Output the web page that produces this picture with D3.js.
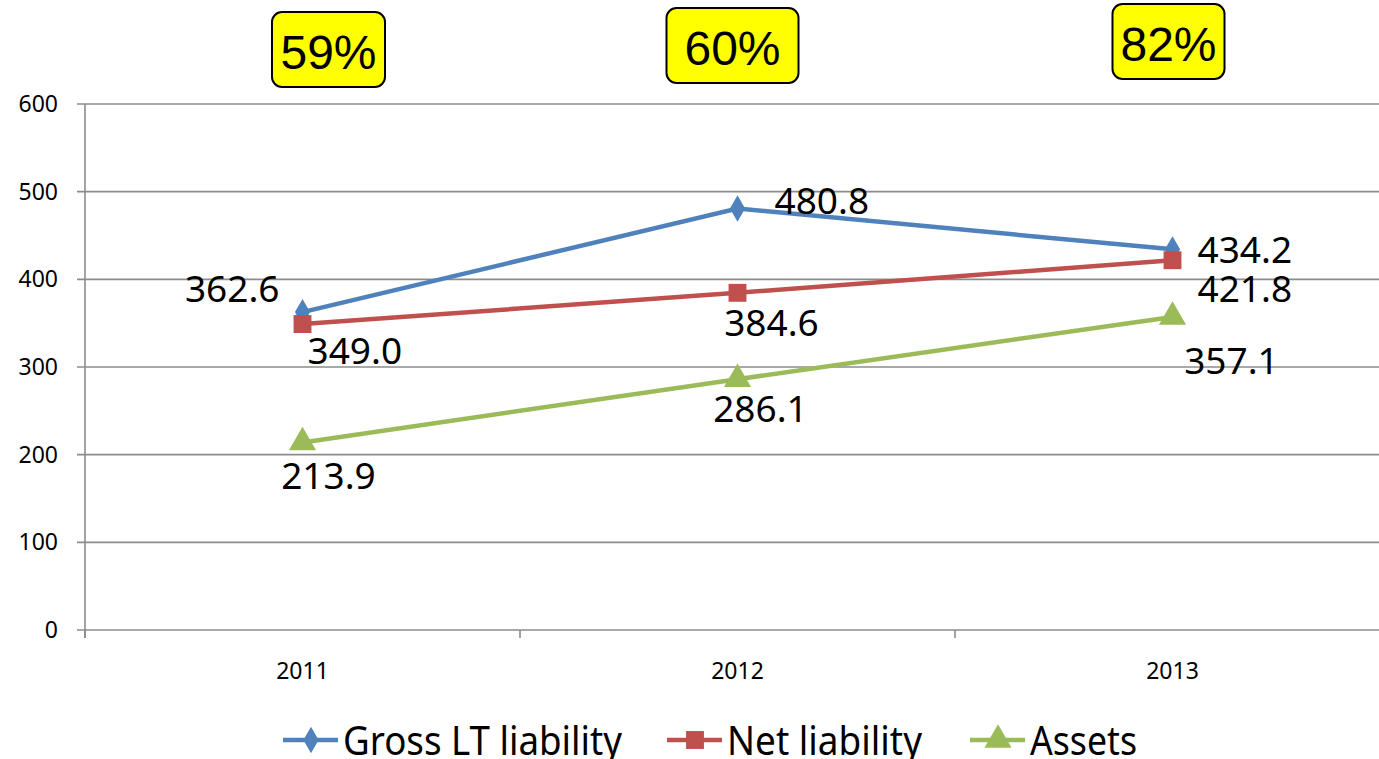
<html>
<head>
	<meta charset="UTF-8">
	<title>Liability vs assets</title>
	<script src="https://cdn.jsdelivr.net/npm/d3@7"></script>
	<style>
		body {
			padding: 0;
			margin: 0;
			background: #fff;
		}
	</style>
</head>
<body>
	<script>
		var years = ["2011", "2012", "2013"];
		var gross = [362.6, 480.8, 434.2];
		var net = [349.0, 384.6, 421.8];
		var assets = [213.9, 286.1, 357.1];
		var ratios = ["59%", "60%", "82%"];
		var yTicks = [0, 100, 200, 300, 400, 500, 600];
		var seriesNames = ["Gross LT liability", "Net liability", "Assets"];

		var w = 1379,
			h = 759;

		var colors = ["#4F81BD", "#C0504D", "#9BBB59"];
		var symbols = [d3.symbolDiamond, d3.symbolSquare, d3.symbolTriangle];
		var symSizes = [200, 320, 320];

		// label offsets from the point [dx, dy, anchor] per series / year
		var labelOffsets = [
			[[-23, -10, "end"], [37, 6, "start"], [25, 14, "start"]],
			[[5, 40, "start"], [34, 43, "middle"], [25, 42, "start"]],
			[[26, 47, "middle"], [23, 43, "middle"], [59, 57, "middle"]]
		];
		// ratio boxes: [dx of centre, top, width]
		var boxes = [[26, 12, 113], [-5, 8, 132], [-4, 4, 112]];

		var svg = d3.select("body").append("svg")
			.attr("width", w)
			.attr("height", h);

		var x = d3.scaleBand().domain(years).range([85, 1390]);
		var y = d3.scaleLinear().domain([0, 600]).range([630, 104]);

		// gridlines + y labels
		svg.selectAll("line.grid").data(yTicks).enter().append("line")
			.attr("x1", 77).attr("x2", 1390)
			.attr("y1", d => y(d)).attr("y2", d => y(d))
			.attr("stroke", "#8c8c8c").attr("stroke-width", 1.6);

		svg.selectAll("text.ylab").data(yTicks).enter().append("text")
			.attr("x", 58).attr("y", d => y(d) + 8)
			.attr("text-anchor", "end")
			.style("font-family", "'Noto Sans', sans-serif")
			.style("font-size", "23px")
			.text(d => d);

		svg.append("line")
			.attr("x1", 85).attr("x2", 85).attr("y1", y(600)).attr("y2", 638)
			.attr("stroke", "#8c8c8c").attr("stroke-width", 1.6);

		var edges = years.map(d => x(d)).concat([x.range()[1]]);
		svg.selectAll("line.xt").data(edges).enter().append("line")
			.attr("x1", d => d).attr("x2", d => d)
			.attr("y1", 630).attr("y2", 638)
			.attr("stroke", "#8c8c8c").attr("stroke-width", 1.6);

		svg.selectAll("text.xlab").data(years).enter().append("text")
			.attr("x", d => x(d) + x.bandwidth() / 2).attr("y", 679)
			.attr("text-anchor", "middle")
			.style("font-family", "'Noto Sans', sans-serif")
			.style("font-size", "23px")
			.text(d => d);

		var allSeries = [gross, net, assets];
		var line = d3.line()
			.x((d, i) => x(years[i]) + x.bandwidth() / 2)
			.y(d => y(d));

		allSeries.forEach(function(vals, s) {
			svg.append("path")
				.attr("d", line(vals))
				.attr("fill", "none")
				.attr("stroke", colors[s])
				.attr("stroke-width", 4.5);

			svg.selectAll(null).data(vals).enter().append("path")
				.attr("d", d3.symbol().type(symbols[s]).size(symSizes[s]))
				.attr("transform", (d, i) => "translate(" + (x(years[i]) + x.bandwidth() / 2) + "," + y(d) + ")")
				.attr("fill", colors[s]);

			svg.selectAll(null).data(vals).enter().append("text")
				.attr("x", (d, i) => x(years[i]) + x.bandwidth() / 2 + labelOffsets[s][i][0])
				.attr("y", (d, i) => y(d) + labelOffsets[s][i][1])
				.attr("text-anchor", (d, i) => labelOffsets[s][i][2])
				.style("font-family", "'Noto Sans', sans-serif")
				.style("font-size", "37px")
				.text(d => d.toFixed(1));
		});

		// ratio boxes
		ratios.forEach(function(r, i) {
			var cx = x(years[i]) + x.bandwidth() / 2 + boxes[i][0];
			var g = svg.append("g");
			g.append("rect")
				.attr("x", cx - boxes[i][2] / 2).attr("y", boxes[i][1])
				.attr("width", boxes[i][2]).attr("height", 75)
				.attr("rx", 10)
				.attr("fill", "#FFFF00")
				.attr("stroke", "#000").attr("stroke-width", 2);
			g.append("text")
				.attr("x", cx).attr("y", boxes[i][1] + 57)
				.attr("text-anchor", "middle")
				.style("font-family", "'Liberation Sans', Arial, sans-serif")
				.style("font-size", "48px")
				.text(r);
		});

		// legend
		var legX = [283, 667, 970];
		var legW = [279, 195, 107];
		seriesNames.forEach(function(n, s) {
			var g = svg.append("g").attr("transform", "translate(" + legX[s] + ",740)");
			g.append("line").attr("x1", 0).attr("x2", 55)
				.attr("stroke", colors[s]).attr("stroke-width", 4.5);
			g.append("path")
				.attr("d", d3.symbol().type(symbols[s]).size(symSizes[s]))
				.attr("transform", "translate(28,0)")
				.attr("fill", colors[s]);
			g.append("text")
				.attr("x", 60).attr("y", 15)
				.attr("textLength", legW[s])
				.attr("lengthAdjust", "spacingAndGlyphs")
				.style("font-family", "'Noto Sans', sans-serif")
				.style("font-size", "40px")
				.text(n);
		});
	</script>
</body>
</html>
